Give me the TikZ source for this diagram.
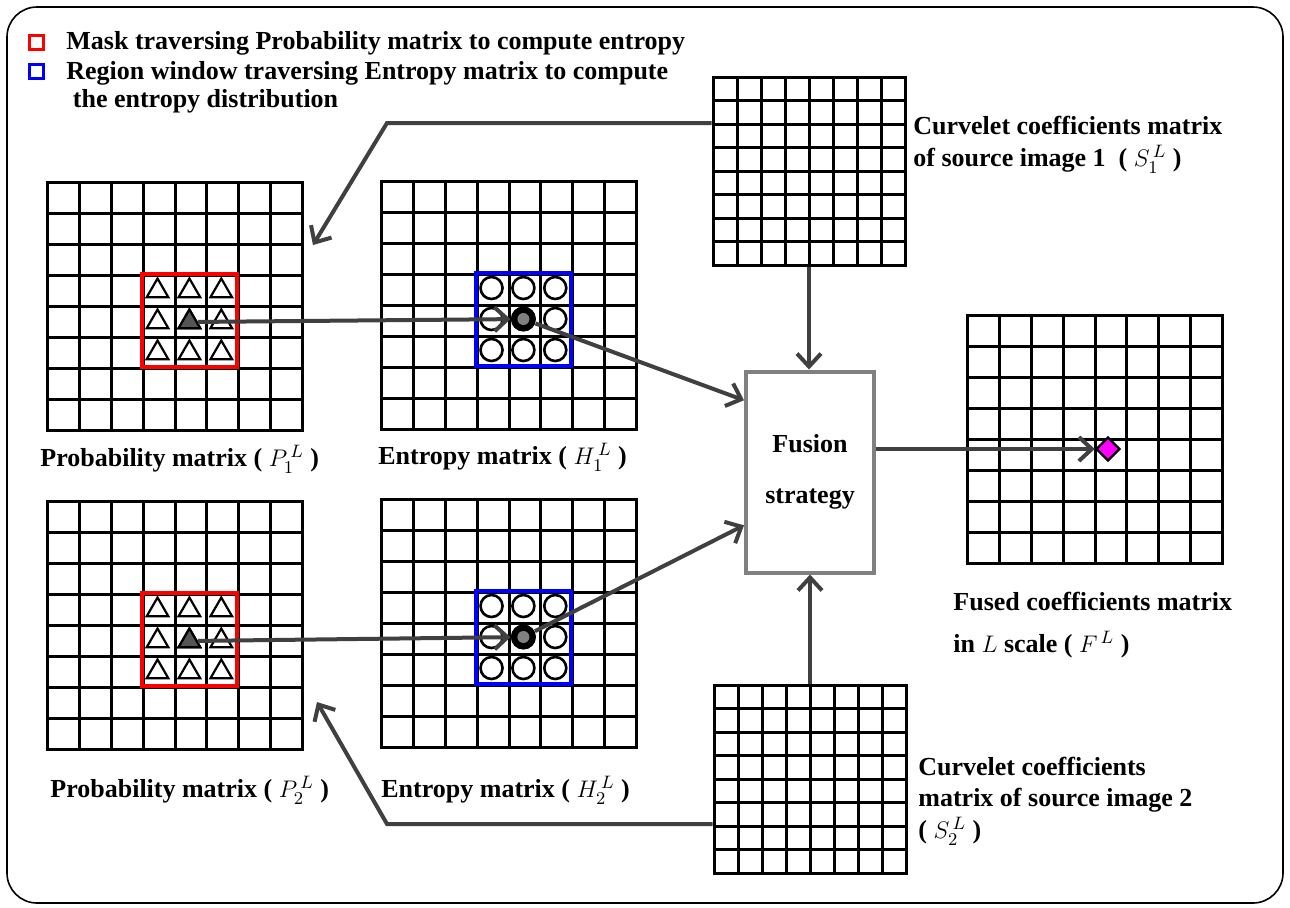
\documentclass[tikz,border=0pt]{standalone}
\usepackage{amsmath,amssymb}
\usepackage{fontspec}
\setmainfont{Liberation Serif}
\usepackage{xcolor}
\usepackage{tikz}
\usetikzlibrary{shapes,arrows.meta,positioning,calc}

\definecolor{arrowgray}{HTML}{404040}
\definecolor{boxgray}{HTML}{808080}
\definecolor{trigray}{HTML}{555555}
\definecolor{fusedpink}{HTML}{FF00FF}

\begin{document}
\begin{tikzpicture}[x=0.5pt, y=-0.5pt,
        font=\fontsize{13pt}{15.6pt}\selectfont\bfseries,
        gridmat/.style={rectangle, draw, line width=1.5pt, fill=white, inner sep=0pt,
            path picture={
                \foreach \k in {1,...,7} {
                    \draw[line width=1.5pt] ($(path picture bounding box.south west)!{\k/8}!(path picture bounding box.south east)$) -- ($(path picture bounding box.north west)!{\k/8}!(path picture bounding box.north east)$);
                    \draw[line width=1.5pt] ($(path picture bounding box.south west)!{\k/8}!(path picture bounding box.north west)$) -- ($(path picture bounding box.south east)!{\k/8}!(path picture bounding box.north east)$);
                }}},
        bigmat/.style={gridmat, minimum width=127.5pt, minimum height=124pt},
        smallmat/.style={gridmat, minimum width=96pt, minimum height=94pt},
        maskwin/.style={rectangle, draw=red, line width=2pt, inner sep=0pt, minimum width=47.8pt, minimum height=46.5pt},
        regwin/.style={maskwin, draw=blue},
        tri/.style={regular polygon, regular polygon sides=3, draw, line width=1.1pt, fill=white, minimum size=12.5pt, inner sep=0pt, yshift=-1pt},
        ring/.style={circle, draw, line width=1.3pt, fill=white, minimum size=11pt, inner sep=0pt},
        hot/.style={circle, fill=black, minimum size=12.5pt, inner sep=0pt,
            path picture={\fill[boxgray] (path picture bounding box.center) circle (3pt);}},
        legbox/.style={rectangle, line width=1.5pt, minimum size=7pt, inner sep=0pt},
        fusebox/.style={rectangle, draw=boxgray, line width=2pt, fill=white, minimum width=64pt, minimum height=100.5pt, align=center},
        label/.style={anchor=base west, inner sep=0pt, align=left},
        flow/.style={-{Straight Barb[length=6.5pt,width=12pt]}, line width=2pt, draw=arrowgray}
    ]
        \useasboundingbox (0,0) rectangle (1290,907);
        \draw[line width=0.8pt, rounded corners=15pt] (7,7) rectangle (1283,903);

        % Legend
        \node[legbox, draw=red] (lred) at (36,42) {};
        \node[legbox, draw=blue] (lblue) at (36,71) {};
        \node[label] (ltxt1) at (66,49) {Mask traversing Probability matrix to compute entropy};
        \node[label] (ltxt2) at (66,107) {Region window traversing Entropy matrix to compute\\[-2pt]\ the entropy distribution};

        % Matrices
        \node[bigmat] (p1) at (175,306) {};
        \node[bigmat] (h1) at (509,305) {};
        \node[bigmat] (p2) at (175,625) {};
        \node[bigmat] (h2) at (509,623) {};
        \node[smallmat] (s1) at (809,171) {};
        \node[smallmat] (s2) at (810,779) {};
        \node[bigmat] (f) at (1095,439) {};
        \node[fusebox] (fus) at (810,472) {Fusion\\[10pt]strategy};

        % Windows
        \node[maskwin] (w1) at ($(p1.north west)+(143.4,139.5)$) {};
        \node[regwin] (w2) at ($(h1.north west)+(143.4,139.5)$) {};
        \node[maskwin] (w3) at ($(p2.north west)+(143.4,139.5)$) {};
        \node[regwin] (w4) at ($(h2.north west)+(143.4,139.5)$) {};
        \foreach \i in {-1,0,1}
            \foreach \j in {-1,0,1} {
                \node[tri] at ($(w1)+(\i*31.875,\j*31)$) {};
                \node[tri] at ($(w3)+(\i*31.875,\j*31)$) {};
                \node[ring] at ($(w2)+(\i*31.875,\j*31)$) {};
                \node[ring] at ($(w4)+(\i*31.875,\j*31)$) {};
            }
        \node[tri, fill=trigray] (t1) at (w1) {};
        \node[tri, fill=trigray] (t2) at (w3) {};
        \node[hot] (c1) at (w2) {};
        \node[hot] (c2) at (w4) {};
        \node[diamond, draw, fill=fusedpink, line width=1.2pt, minimum size=12pt, inner sep=0pt] (dia) at (1108,449) {};

        % Labels
        \node[label] (lp1) at (40,466) {Probability matrix ( $P_1^{\,L}$ )};
        \node[label] (lh1) at (378,464) {Entropy matrix ( $H_1^{\,L}$ )};
        \node[label] (lp2) at (50,797) {Probability matrix ( $P_2^{\,L}$ )};
        \node[label] (lh2) at (381,797) {Entropy matrix ( $H_2^{\,L}$ )};
        \node[label] (ls1) at (913,166) {Curvelet coefficients matrix\\of source image 1 \ ( $S_1^{\,L}$ )};
        \node[label] (lf) at (953,652) {Fused coefficients matrix\\[5pt]in $L$ scale ( $F^{\,L}$ )};
        \node[label] (ls2) at (918,838) {Curvelet coefficients\\matrix of source image 2\\( $S_2^{\,L}$ )};

        % Arrows
        \coordinate (s1bend) at (387,123);
        \coordinate (p1tip) at (313,245);
        \coordinate (s2bend) at (387,824);
        \coordinate (p2tip) at (317,702);
        \draw[flow] (s1.west |- s1bend) -- (s1bend) -- (p1tip);
        \draw[flow] (s2.west |- s2bend) -- (s2bend) -- (p2tip);
        \draw[flow] (t1) -- (c1);
        \draw[flow] (t2) -- (c2);
        \draw[flow] (c1) -- ($(fus.north west)!0.15!(fus.south west)$);
        \draw[flow] (c2) -- ($(fus.north west)!0.76!(fus.south west)$);
        \draw[flow] (s1.south) -- (s1.south |- fus.north);
        \draw[flow] (s2.north) -- (s2.north |- fus.south);
        \draw[flow] (fus.east |- dia) -- (dia);

    \end{tikzpicture}
\end{document}
